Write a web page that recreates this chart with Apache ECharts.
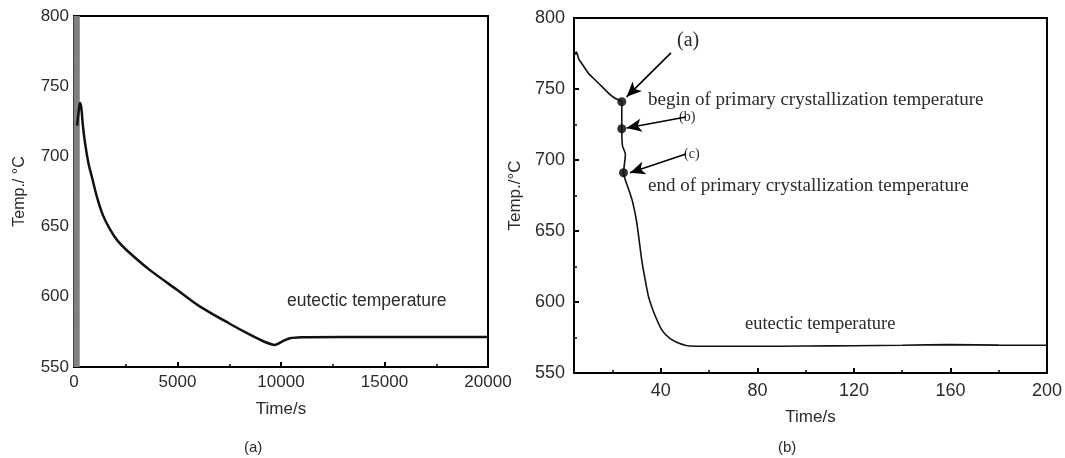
<!DOCTYPE html>
<html>
<head>
<meta charset="utf-8">
<script src="https://cdn.jsdelivr.net/npm/echarts@6/dist/echarts.min.js"></script>
<style>
  html, body { margin: 0; padding: 0; background: #fff; }
  #chart { width: 1065px; height: 458px; }
</style>
</head>
<body>
<div id="chart"></div>
<script>
// (a) long cooling curve, time in s
const leftBand = [
  [0, 550], [10, 800], [20, 550], [30, 800], [40, 550], [50, 800], [60, 550],
  [70, 800], [80, 550], [90, 800], [100, 550], [110, 800], [120, 550], [130, 800],
  [140, 550], [150, 800], [160, 550], [170, 800], [180, 550], [190, 800], [200, 550],
  [210, 800], [220, 550], [230, 800], [240, 550], [250, 800]
]
const leftCurve = [
  [150, 722], [200, 729], [260, 736], [290, 738], [350, 735], [430, 722], [530, 710],
  [700, 695], [870, 685], [1110, 671], [1400, 658], [1740, 648], [2100, 640],
  [2560, 633], [3670, 619], [4975, 605], [6090, 593], [7500, 581], [8500, 573],
  [9200, 568], [9700, 565.7], [10100, 568.5], [10430, 570.5],
  [11000, 571.2], [13000, 571.4], [16000, 571.4], [20000, 571.4]
]

// (b) short cooling curve, time in s
const rightCurve = [
  [4, 775], [5, 776], [6, 771], [8, 766], [10, 761], [13, 756], [16, 751], [19, 746],
  [21, 743.5], [23.8, 741], [23.8, 722], [24.1, 710], [25.3, 704], [24.6, 693],
  [24.5, 691], [26.5, 680], [28.2, 671], [30, 656], [32.2, 628], [34, 611],
  [35, 603], [37, 593], [40.5, 580], [44, 574], [47.5, 571], [52, 569],
  [60, 568.8], [80, 568.8], [100, 569], [120, 569.2], [140, 569.5], [160, 570],
  [180, 569.6], [200, 569.5]
]
const keyPoints = [[23.8, 741], [23.8, 722], [24.5, 691]]
const arrows = [
  [[44.2, 775.4], [25.8, 744.5]],
  [[50.4, 730.3], [25.8, 722.5]],
  [[50.4, 704.2], [27.2, 691]]
]

const leftXLabels = [0, 5000, 10000, 15000, 20000]
const rightXLabels = [40, 80, 120, 160, 200]
const rightXMinor = [20, 60, 100, 140, 180]

const sans = 'Liberation Sans'
const ink = '#2b2b2b'

const chart = echarts.init(document.getElementById('chart'))

const axisBase = {
  axisLine: { show: true, onZero: false, lineStyle: { color: '#000', width: 2 } },
  splitLine: { show: false },
  axisTick: { inside: true, length: 5, lineStyle: { color: '#000', width: 2 } },
  minorTick: { show: true, splitNumber: 2, length: 3, lineStyle: { color: '#000', width: 1.5 } }
}

const plain = v => String(v)

const option = {
  animation: false,
  grid: [
    { left: 74, top: 16, width: 414, height: 351, show: true, borderColor: '#000', borderWidth: 2 },
    { left: 574, top: 18, width: 475, height: 355, show: true, borderColor: '#000', borderWidth: 2 }
  ],
  xAxis: [
    {
      ...axisBase, gridIndex: 0, type: 'value', min: 0, max: 20000, interval: 5000,
      axisLabel: { fontFamily: sans, fontSize: 17, color: ink, margin: 7,
        customValues: leftXLabels, formatter: plain },
      name: 'Time/s', nameLocation: 'middle', nameGap: 34,
      nameTextStyle: { fontFamily: sans, fontSize: 17, color: ink }
    },
    {
      ...axisBase, gridIndex: 1, type: 'value', min: 4, max: 200, position: 'bottom',
      minorTick: { show: false },
      axisTick: { ...axisBase.axisTick, customValues: rightXLabels },
      axisLabel: { fontFamily: sans, fontSize: 18, color: ink, margin: 9,
        customValues: rightXLabels, formatter: plain },
      name: 'Time/s', nameLocation: 'middle', nameGap: 36,
      nameTextStyle: { fontFamily: sans, fontSize: 17, color: ink }
    },
    {
      gridIndex: 1, type: 'value', min: 4, max: 200, position: 'bottom',
      axisLine: { show: false, onZero: false }, splitLine: { show: false },
      axisLabel: { show: false },
      axisTick: { inside: true, length: 3, customValues: rightXMinor,
        lineStyle: { color: '#000', width: 1.5 } }
    }
  ],
  yAxis: [
    {
      ...axisBase, gridIndex: 0, type: 'value', min: 550, max: 800, interval: 50,
      axisLabel: { fontFamily: sans, fontSize: 17, color: ink, margin: 5 },
      name: 'Temp./ °C', nameLocation: 'middle', nameGap: 46,
      nameTextStyle: { fontFamily: sans, fontSize: 16, color: ink }
    },
    {
      ...axisBase, gridIndex: 1, type: 'value', min: 550, max: 800, interval: 50,
      axisLabel: { fontFamily: sans, fontSize: 18, color: ink, margin: 9 },
      name: 'Temp./°C', nameLocation: 'middle', nameGap: 50,
      nameTextStyle: { fontFamily: sans, fontSize: 17, color: ink }
    }
  ],
  series: [
    {
      type: 'line', xAxisIndex: 0, yAxisIndex: 0, data: leftBand,
      showSymbol: false, lineStyle: { color: '#808080', width: 1 }
    },
    {
      type: 'line', xAxisIndex: 0, yAxisIndex: 0, data: leftCurve, smooth: 0.25,
      showSymbol: false, lineStyle: { color: '#111', width: 2.5 }
    },
    {
      type: 'line', xAxisIndex: 1, yAxisIndex: 1, data: rightCurve, smooth: 0.2,
      showSymbol: false, lineStyle: { color: '#111', width: 1.6 }
    },
    {
      type: 'scatter', xAxisIndex: 1, yAxisIndex: 1, data: keyPoints,
      symbolSize: 9, itemStyle: { color: '#000' },
      markLine: {
        silent: true, symbol: ['none', 'arrow'], symbolSize: [10, 15],
        label: { show: false },
        lineStyle: { color: '#000', width: 1.6, type: 'solid' },
        data: arrows.map(a => [{ coord: a[0] }, { coord: a[1] }])
      }
    }
  ],
  graphic: [
    { type: 'text', left: 287, top: 292,
      style: { text: 'eutectic temperature', font: '17.5px "Liberation Sans"', fill: ink } },
    { type: 'text', left: 677, top: 31,
      style: { text: '(a)', font: '20px "Liberation Serif"', fill: ink } },
    { type: 'text', left: 648, top: 91,
      style: { text: 'begin of primary crystallization temperature', font: '19px "Liberation Serif"', fill: ink } },
    { type: 'text', left: 679, top: 110,
      style: { text: '(b)', font: '14px "Liberation Serif"', fill: ink } },
    { type: 'text', left: 684, top: 147,
      style: { text: '(c)', font: '14px "Liberation Serif"', fill: ink } },
    { type: 'text', left: 648, top: 177,
      style: { text: 'end of primary crystallization temperature', font: '19px "Liberation Serif"', fill: ink } },
    { type: 'text', left: 745, top: 315,
      style: { text: 'eutectic temperature', font: '18.5px "Liberation Serif"', fill: ink } },
    { type: 'text', left: 244, top: 440,
      style: { text: '(a)', font: '15px "Liberation Sans"', fill: ink } },
    { type: 'text', left: 778, top: 440,
      style: { text: '(b)', font: '15px "Liberation Sans"', fill: ink } }
  ]
}

chart.setOption(option)
</script>
</body>
</html>
